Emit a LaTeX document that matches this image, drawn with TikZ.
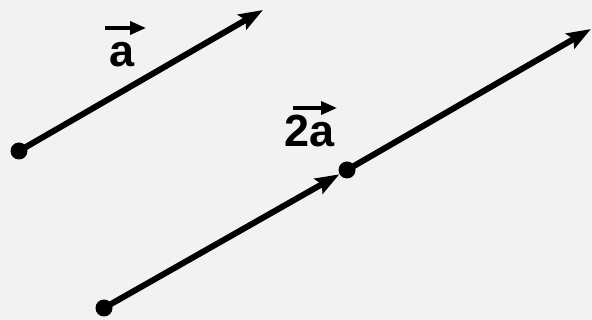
\documentclass[tikz,border=0pt]{standalone}
\usepackage{fontspec}
\setsansfont{Liberation Sans}
\usetikzlibrary{arrows.meta}
\tikzset{
  vec/.style={line width=6pt, -{Stealth[length=24pt,width=17pt,inset=4pt]}},
  dot/.style={circle, fill=black, inner sep=0pt, minimum size=17pt},
  lbl/.style={font=\fontsize{45}{48}\selectfont\sffamily\bfseries, inner sep=0pt},
  bar/.style={line width=3.5pt, -{Triangle[length=16pt,width=13pt]}}
}
\begin{document}
\begin{tikzpicture}[x=1pt, y=-1pt]
  % 배경
  \fill[black!5] (0,0) rectangle (592,320);
  \useasboundingbox (0,0) rectangle (592,320);
  % 벡터 a
  \node[dot] (oa) at (19,151) {};
  \coordinate (ta) at (263,10);
  \draw[vec] (oa.center) -- (ta);
  \node[lbl, anchor=base] (la) at (122,67) {a};
  \draw[bar] ([xshift=-17pt,yshift=39pt]la.base) -- ([xshift=24pt,yshift=39pt]la.base);
  % 벡터 2a
  \node[dot] (ob) at (104,308) {};
  \node[dot] (mb) at (347,170) {};
  \coordinate (tb) at (591,29);
  \draw[vec] (ob.center) -- (mb);
  \draw[vec] (mb.center) -- (tb);
  \node[lbl, anchor=base] (lb) at (310,147) {2a};
  \draw[bar] ([xshift=-17pt,yshift=39pt]lb.base) -- ([xshift=27pt,yshift=39pt]lb.base);
\end{tikzpicture}
\end{document}
